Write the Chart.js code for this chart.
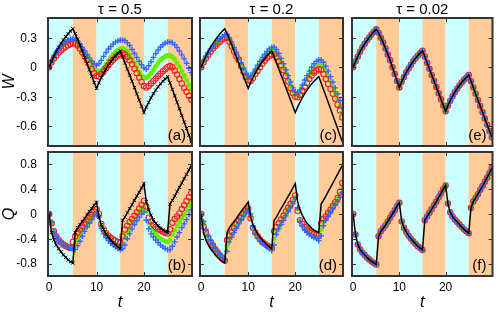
<!DOCTYPE html>
<html><head><meta charset="utf-8">
<script src="https://cdn.jsdelivr.net/npm/chart.js@4.4.1/dist/chart.umd.min.js"></script>
<style>
html,body{margin:0;padding:0;background:#fff;}
#wrap{position:relative;width:498px;height:313px;overflow:hidden;}
canvas{position:absolute;left:0;top:0;}
</style>
</head><body><div id="wrap"></div>
<script>
// ---------- data ----------
const t = [0,0.5,1,1.5,2,2.5,3,3.5,4,4.5,5,5.5,6,6.5,7,7.5,8,8.5,9,9.5,10,
  10.5,11,11.5,12,12.5,13,13.5,14,14.5,15,15.5,16,16.5,17,17.5,18,18.5,19,19.5,20,
  20.5,21,21.5,22,22.5,23,23.5,24,24.5,25,25.5,26,26.5,27,27.5,28,28.5,29,29.5,30];

const bandEdges = [0,5,10,15,20,25,30];
const bandColors = ['#ccffff','#ffcc99'];
const xTickValues = [0,10,20];
const xTickLabels = ['0','10','20'];
const wTickValues = [0.3,0,-0.3,-0.6];
const wTickLabels = ['0.3','0','-0.3','-0.6'];
const qTickValues = [0.8,0.4,0,-0.4,-0.8];
const qTickLabels = ['0.8','0.4','0','-0.4','-0.8'];
const tauTitles = ['\u03c4 = 0.5','\u03c4 = 0.2','\u03c4 = 0.02'];
const panelLetters = ['(a)','(b)','(c)','(d)','(e)','(f)'];

// W, black reference curve (panels a, c)
const wBlack = [0, .06,.112,.16,.204,.243,.278,.31,.34,.366,.39,
 .34,.285,.225,.163,.10,.037,-.027,-.092,-.156,-.215,
 -.158,-.107,-.06,-.018,.02,.055,.086,.116,.141,.165,
 .105,.044,-.018,-.08,-.143,-.206,-.27,-.333,-.396,-.46,
 -.405,-.356,-.31,-.269,-.233,-.199,-.169,-.142,-.118,-.095,
 -.16,-.225,-.29,-.356,-.422,-.49,-.556,-.622,-.69,-.757];
// tau = 0.5, W
const wBlueA = [0, .065,.115,.155,.19,.22,.243,.262,.277,.287,.292,
 .285,.265,.235,.20,.165,.13,.095,.06,.035,.02,
 .035,.07,.11,.15,.185,.21,.235,.255,.268,.275,
 .277,.27,.25,.22,.18,.14,.10,.06,.025,-.005,
 -.02,.015,.055,.10,.14,.175,.205,.23,.245,.255,
 .257,.25,.23,.20,.165,.125,.085,.04,-.01,-.055];
const wGreenA = [0, .055,.10,.14,.175,.203,.225,.243,.255,.262,.265,
 .262,.248,.222,.188,.15,.11,.07,.03,-.01,-.035,
 -.042,-.03,-.005,.03,.065,.10,.13,.155,.175,.188,
 .19,.182,.16,.125,.085,.04,-.005,-.05,-.09,-.105,
 -.108,-.09,-.06,-.025,.01,.045,.075,.095,.11,.118,
 .118,.105,.08,.045,.005,-.04,-.085,-.13,-.175,-.22];
const wRedA = [0, .05,.088,.12,.149,.17,.19,.207,.223,.235,.243,
 .24,.22,.19,.15,.11,.07,.03,-.02,-.06,-.09,
 -.095,-.07,-.04,-.01,.02,.05,.075,.10,.12,.135,
 .142,.13,.105,.07,.03,-.015,-.06,-.105,-.15,-.19,
 -.206,-.19,-.165,-.14,-.115,-.09,-.065,-.04,-.02,.0,
 .012,.0,-.035,-.075,-.12,-.165,-.21,-.25,-.29,-.33];
// tau = 0.2, W
const wBlueC = [0, .06,.11,.15,.185,.215,.24,.265,.29,.31,.33,
 .335,.30,.255,.20,.15,.10,.045,-.01,-.06,-.085,
 -.085,-.06,-.02,.02,.06,.10,.13,.16,.185,.20,
 .205,.18,.14,.09,.035,-.025,-.085,-.15,-.21,-.25,
 -.26,-.23,-.18,-.13,-.085,-.04,.0,.035,.06,.075,
 .075,.05,.01,-.04,-.095,-.15,-.21,-.27,-.34,-.41];
const wGreenC = [0, .055,.10,.14,.175,.205,.23,.26,.28,.30,.32,
 .32,.285,.235,.18,.13,.085,.03,-.025,-.08,-.11,
 -.115,-.09,-.05,-.01,.03,.07,.10,.13,.155,.17,
 .17,.145,.105,.055,.0,-.06,-.12,-.18,-.24,-.275,
 -.285,-.255,-.21,-.165,-.12,-.08,-.045,-.015,.01,.03,
 .03,.005,-.04,-.09,-.145,-.20,-.26,-.32,-.39,-.46];
const wRedC = [0, .05,.09,.125,.16,.19,.215,.24,.26,.285,.30,
 .30,.26,.21,.16,.11,.07,.01,-.045,-.10,-.13,
 -.14,-.11,-.07,-.035,.0,.035,.065,.095,.115,.13,
 .13,.10,.06,.02,-.03,-.09,-.145,-.21,-.265,-.30,
 -.305,-.28,-.24,-.20,-.16,-.12,-.085,-.055,-.035,-.02,
 -.025,-.07,-.12,-.17,-.22,-.27,-.32,-.38,-.44,-.51];
// tau = 0.02, W (all series coincide with the reference)
const wTau002 = [0, .058,.11,.158,.20,.238,.273,.305,.334,.36,.385,
 .35,.30,.25,.19,.13,.07,.0,-.07,-.14,-.205,
 -.148,-.098,-.052,-.012,.025,.06,.091,.12,.145,.168,
 .108,.046,-.016,-.078,-.14,-.202,-.264,-.326,-.388,-.448,
 -.39,-.34,-.295,-.254,-.218,-.185,-.155,-.128,-.104,-.08,
 -.143,-.206,-.269,-.332,-.395,-.458,-.52,-.585,-.648,-.71];

// Q, black reference curve (panels b, d)
const qBlack = [0, -.30,-.42,-.50,-.56,-.61,-.66,-.70,-.74,-.77,-.79,
 -.30,-.22,-.17,-.12,-.07,-.01,.04,.09,.14,.19,
 -.05,-.17,-.25,-.32,-.37,-.42,-.46,-.50,-.53,-.56,
 -.10,-.05,.02,.09,.15,.22,.29,.35,.42,.49,
 .20,.07,-.02,-.09,-.15,-.19,-.23,-.26,-.28,-.30,
 .16,.22,.29,.36,.43,.50,.57,.64,.71,.78];
// tau = 0.5, Q
const qBlueB = [0, -.13,-.29,-.36,-.42,-.46,-.50,-.52,-.54,-.555,-.565,
 -.57,-.51,-.44,-.36,-.28,-.21,-.15,-.09,-.03,.01,
 -.05,-.23,-.32,-.38,-.43,-.47,-.50,-.53,-.555,-.575,
 -.56,-.50,-.40,-.32,-.24,-.17,-.11,-.05,.0,.03,
 -.10,-.24,-.32,-.37,-.42,-.46,-.50,-.53,-.555,-.575,
 -.575,-.52,-.45,-.37,-.30,-.22,-.16,-.09,-.01,.065];
const qGreenB = [0, -.14,-.29,-.37,-.43,-.47,-.50,-.515,-.53,-.54,-.54,
 -.50,-.42,-.36,-.29,-.23,-.17,-.11,-.05,.0,.04,
 -.03,-.20,-.29,-.35,-.40,-.44,-.47,-.495,-.515,-.53,
 -.48,-.38,-.30,-.23,-.16,-.10,-.04,.02,.07,.11,
 .04,-.14,-.22,-.28,-.33,-.37,-.40,-.42,-.44,-.45,
 -.42,-.33,-.26,-.19,-.13,-.07,-.01,.06,.14,.22];
const qRedB = [0, -.15,-.28,-.36,-.42,-.46,-.49,-.515,-.535,-.55,-.45,
 -.36,-.30,-.25,-.20,-.15,-.10,-.05,-.01,.04,.075,
 .0,-.16,-.25,-.31,-.35,-.385,-.41,-.43,-.45,-.46,
 -.36,-.25,-.19,-.13,-.08,-.03,.03,.09,.15,.21,
 .12,-.06,-.12,-.17,-.21,-.24,-.265,-.285,-.305,-.315,
 -.25,-.14,-.08,-.04,.01,.08,.14,.21,.27,.335];
// tau = 0.2, Q
const qBlueD = [0, -.12,-.25,-.35,-.43,-.50,-.56,-.61,-.66,-.70,-.73,
 -.60,-.45,-.37,-.30,-.23,-.16,-.10,-.04,.02,.07,
 .0,-.20,-.31,-.38,-.43,-.47,-.50,-.53,-.555,-.59,
 -.50,-.33,-.24,-.17,-.10,-.03,.04,.10,.17,.24,
 .10,-.12,-.20,-.26,-.30,-.33,-.36,-.38,-.40,-.43,
 -.35,-.19,-.10,-.04,.02,.08,.14,.20,.27,.35];
const qGreenD = [0, -.16,-.28,-.37,-.44,-.50,-.56,-.61,-.66,-.70,-.74,
 -.52,-.40,-.33,-.26,-.20,-.135,-.08,-.02,.035,.08,
 -.03,-.21,-.30,-.37,-.42,-.46,-.49,-.52,-.54,-.56,
 -.40,-.27,-.20,-.13,-.06,.0,.07,.13,.20,.27,
 .08,-.11,-.18,-.235,-.275,-.305,-.33,-.35,-.37,-.38,
 -.25,-.13,-.05,.01,.07,.13,.19,.25,.32,.42];
const qRedD = [0, -.20,-.30,-.38,-.45,-.51,-.57,-.62,-.67,-.71,-.75,
 -.42,-.35,-.29,-.23,-.17,-.11,-.06,.0,.05,.09,
 -.07,-.22,-.30,-.36,-.41,-.45,-.48,-.51,-.53,-.55,
 -.28,-.21,-.15,-.09,-.03,.04,.10,.16,.23,.30,
 .05,-.10,-.16,-.21,-.25,-.28,-.30,-.32,-.34,-.35,
 -.15,-.08,-.04,.02,.07,.13,.19,.26,.36,.50];
// tau = 0.02, Q (all series coincide with the reference)
const qTau002 = [0, -.33,-.49,-.57,-.62,-.66,-.70,-.735,-.765,-.79,-.815,
 -.36,-.28,-.23,-.18,-.12,-.06,.0,.06,.13,.18,
 -.12,-.22,-.29,-.35,-.40,-.44,-.48,-.52,-.55,-.58,
 -.10,-.04,.02,.08,.14,.20,.27,.33,.40,.46,
 .17,.03,-.04,-.09,-.13,-.17,-.21,-.25,-.28,-.31,
 .10,.20,.26,.32,.39,.45,.52,.59,.66,.74];

// ---------- layout / style ----------
const W = 498, H = 313;
const colX = [[48,192],[200,343],[352,497]];
const rowY = [[18,146],[152,276]];
const FONT = '"Liberation Sans", Arial, Helvetica, sans-serif';
const C_BLACK = '#000000', C_BLUE = '#3366ff', C_GREEN = '#66ee00', C_RED = '#f02020', C_FRAME = '#333333';

const panels = [
  {col:0,row:0,letter:0,title:tauTitles[0],yMin:-0.8,yMax:0.5,yt:wTickValues,yl:wTickLabels,yTitle:'W',
   black:wBlack,blue:wBlueA,green:wGreenA,red:wRedA,markBlack:true},
  {col:0,row:1,letter:1,yMin:-1,yMax:1,yt:qTickValues,yl:qTickLabels,yTitle:'Q',
   black:qBlack,blue:qBlueB,green:qGreenB,red:qRedB,markBlack:true},
  {col:1,row:0,letter:2,title:tauTitles[1],yMin:-0.8,yMax:0.5,yt:wTickValues,
   black:wBlack,blue:wBlueC,green:wGreenC,red:wRedC},
  {col:1,row:1,letter:3,yMin:-1,yMax:1,yt:qTickValues,
   black:qBlack,blue:qBlueD,green:qGreenD,red:qRedD},
  {col:2,row:0,letter:4,title:tauTitles[2],yMin:-0.8,yMax:0.5,yt:wTickValues,
   black:wTau002,blue:wTau002,green:wTau002,red:wTau002},
  {col:2,row:1,letter:5,yMin:-1,yMax:1,yt:qTickValues,
   black:qTau002,blue:qTau002,green:qTau002,red:qTau002},
];

const panelPlugin = {
  id: 'panelDeco',
  beforeDatasetsDraw(chart, args, o) {
    const {ctx, chartArea: a} = chart;
    const x = chart.scales.x;
    ctx.save();
    for (let i = 0; i < bandEdges.length - 1; i++) {
      const x0 = i === 0 ? a.left : x.getPixelForValue(bandEdges[i]);
      const x1 = i === bandEdges.length - 2 ? a.right : x.getPixelForValue(bandEdges[i+1]);
      ctx.fillStyle = bandColors[i % 2];
      ctx.fillRect(x0, a.top, x1 - x0, a.bottom - a.top);
    }
    ctx.restore();
  },
  afterDraw(chart, args, o) {
    const {ctx, chartArea: a} = chart;
    const x = chart.scales.x, y = chart.scales.y;
    const p = o.p;
    ctx.save();
    ctx.strokeStyle = C_FRAME; ctx.lineWidth = 1;
    ctx.beginPath();
    xTickValues.forEach(v => {
      const px = Math.round(x.getPixelForValue(v)) + 0.5;
      if (px - a.left < 3) return;
      ctx.moveTo(px, a.top); ctx.lineTo(px, a.top + 4);
      ctx.moveTo(px, a.bottom); ctx.lineTo(px, a.bottom - 4);
    });
    p.yt.forEach(v => {
      const py = Math.round(y.getPixelForValue(v)) + 0.5;
      ctx.moveTo(a.left, py); ctx.lineTo(a.left + 4, py);
      ctx.moveTo(a.right, py); ctx.lineTo(a.right - 4, py);
    });
    ctx.stroke();
    ctx.lineWidth = 2; ctx.strokeStyle = C_FRAME;
    ctx.strokeRect(a.left, a.top, a.right - a.left, a.bottom - a.top);
    ctx.fillStyle = '#000';
    if (p.yl) {
      ctx.font = '12px ' + FONT; ctx.textAlign = 'right'; ctx.textBaseline = 'middle';
      p.yt.forEach((v, i) => ctx.fillText(p.yl[i], a.left - 11, y.getPixelForValue(v) + 0.5));
    }
    if (p.yTitle) {
      ctx.save();
      ctx.translate(10, (a.top + a.bottom) / 2);
      ctx.rotate(-Math.PI / 2);
      ctx.font = 'italic 16px ' + FONT; ctx.textAlign = 'center'; ctx.textBaseline = 'middle';
      ctx.fillText(p.yTitle, 0, 0);
      ctx.restore();
    }
    if (p.row === 1) {
      ctx.font = '12px ' + FONT; ctx.textAlign = 'center'; ctx.textBaseline = 'middle';
      xTickValues.forEach((v, i) => ctx.fillText(xTickLabels[i], x.getPixelForValue(v), a.bottom + 12));
      ctx.font = 'italic 16px ' + FONT;
      ctx.fillText('t', (a.left + a.right) / 2, 303);
    }
    if (p.title) {
      ctx.font = '15px ' + FONT; ctx.textAlign = 'center'; ctx.textBaseline = 'middle';
      ctx.fillText(p.title, (a.left + a.right) / 2, 9.5);
    }
    ctx.font = '15px ' + FONT; ctx.textAlign = 'right'; ctx.textBaseline = 'alphabetic';
    ctx.fillText(panelLetters[p.letter], a.right - 6, a.bottom - 6);
    ctx.restore();
  }
};

const toXY = arr => t.map((tv, i) => ({x: tv, y: arr[i]}));
const wrap = document.getElementById('wrap');

panels.forEach(p => {
  const cv = document.createElement('canvas');
  cv.width = W; cv.height = H;
  cv.style.width = W + 'px'; cv.style.height = H + 'px';
  wrap.appendChild(cv);
  const [L, R] = colX[p.col], [T, B] = rowY[p.row];
  new Chart(cv.getContext('2d'), {
    type: 'line',
    data: {
      datasets: [
        {data: toXY(p.black), borderColor: C_BLACK, backgroundColor: C_BLACK, borderWidth: 1.5,
         pointStyle: 'crossRot', pointRadius: p.markBlack ? 2.3 : 0, pointBorderWidth: 1, tension: 0},
        {data: toXY(p.blue), showLine: false, pointStyle: 'cross', pointRadius: 2.8,
         pointBorderWidth: 1.4, borderColor: C_BLUE, backgroundColor: C_BLUE},
        {data: toXY(p.red), showLine: false, pointStyle: 'circle', pointRadius: 2.7,
         pointBorderWidth: 1.1, borderColor: C_RED, backgroundColor: 'rgba(0,0,0,0)'},
        {data: toXY(p.green), showLine: false, pointStyle: 'star', pointRadius: 2.5,
         pointBorderWidth: 1.5, borderColor: C_GREEN, backgroundColor: C_GREEN}
      ]
    },
    options: {
      responsive: false, animation: false, devicePixelRatio: 1, events: [],
      layout: {padding: {left: L, top: T, right: W - R, bottom: H - B}},
      plugins: {legend: {display: false}, tooltip: {enabled: false}, title: {display: false},
                panelDeco: {p: p}},
      scales: {
        x: {type: 'linear', min: -0.25, max: 30.15, display: false},
        y: {type: 'linear', min: p.yMin, max: p.yMax, display: false}
      }
    },
    plugins: [panelPlugin]
  });
});
</script>
</body></html>
